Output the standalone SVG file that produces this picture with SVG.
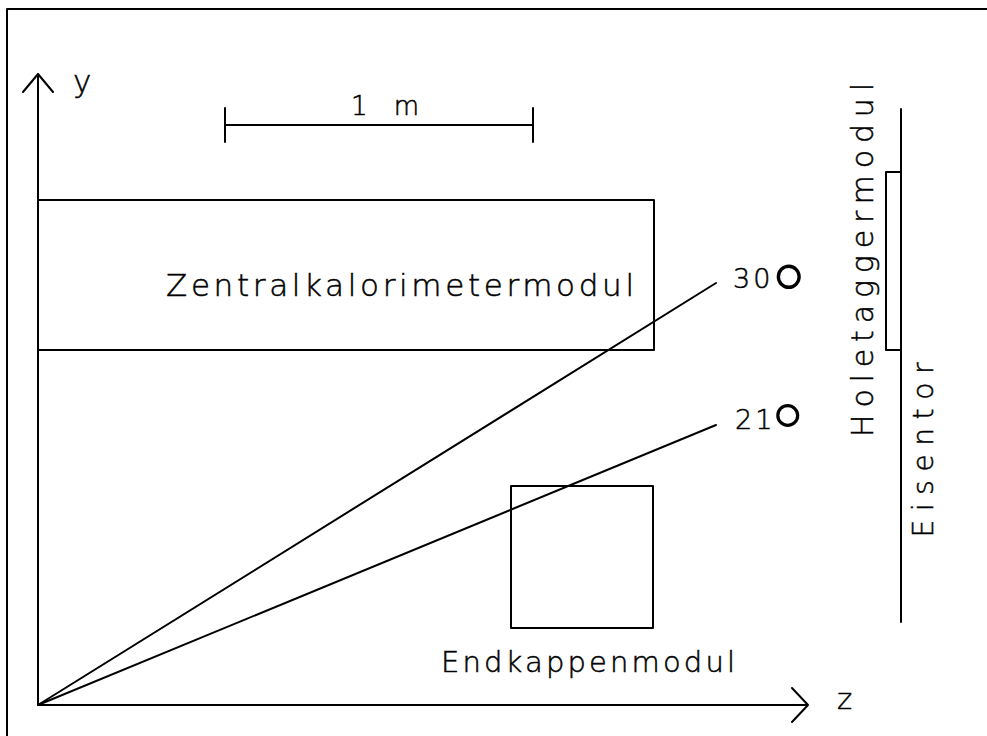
<svg xmlns="http://www.w3.org/2000/svg" width="987" height="736" viewBox="0 0 987 736">
<style>
.ln{stroke:#000;stroke-width:2;fill:none;stroke-linecap:round;stroke-linejoin:round}
.tx{font-family:"DejaVu Sans","Liberation Sans",sans-serif;font-weight:200;fill:#000;stroke:#000;stroke-width:0.5}
.deg{stroke-width:0;letter-spacing:0}
</style>
<rect width="987" height="736" fill="#fff"/>
<g id="frame">
<path class="ln" d="M7,736 V9 H987"/>
</g>
<g id="axes">
<path class="ln" d="M38,705 V74 M23,92 L38,74 L53,92"/>
<path class="ln" d="M38,705 H808 M792,688 L808,705 L792,722"/>
<text class="tx" x="73" y="92" font-size="31">y</text>
<text class="tx" x="837" y="709" font-size="29">z</text>
</g>
<g id="scale">
<path class="ln" d="M225,125 H533 M225,108 V142 M533,108 V142"/>
<text class="tx" x="351" y="115" font-size="26" textLength="68" lengthAdjust="spacing">1 m</text>
</g>
<g id="zentral">
<rect class="ln" x="38" y="200" width="616" height="150"/>
<text class="tx" x="166" y="296" font-size="31" textLength="468" lengthAdjust="spacing">Zentralkalorimetermodul</text>
</g>
<g id="endkappe">
<rect class="ln" x="511" y="486" width="142" height="142"/>
<text class="tx" x="441" y="672" font-size="29" textLength="294" lengthAdjust="spacing">Endkappenmodul</text>
</g>
<g id="holetagger">
<path class="ln" d="M901,172 H886 V350 H901"/>
<text class="tx" transform="translate(873,260) rotate(-90)" text-anchor="middle" font-size="30" textLength="354" lengthAdjust="spacing">Holetaggermodul</text>
</g>
<g id="eisentor">
<path class="ln" d="M901,109 V622"/>
<text class="tx" transform="translate(933,450) rotate(-90)" text-anchor="middle" font-size="28" textLength="175" lengthAdjust="spacing">Eisentor</text>
</g>
<g id="connectors">
<path class="ln" d="M38,705 L716,283"/>
<path class="ln" d="M38,705 L716,425"/>
</g>
<g id="labels">
<text class="tx" x="733" y="288" font-size="27" letter-spacing="3">30<tspan class="deg" font-size="90" dx="-7" dy="42">°</tspan></text>
<text class="tx" x="735" y="429" font-size="27" letter-spacing="3">21<tspan class="deg" font-size="86" dx="-9" dy="37">°</tspan></text>
</g>
</svg>
